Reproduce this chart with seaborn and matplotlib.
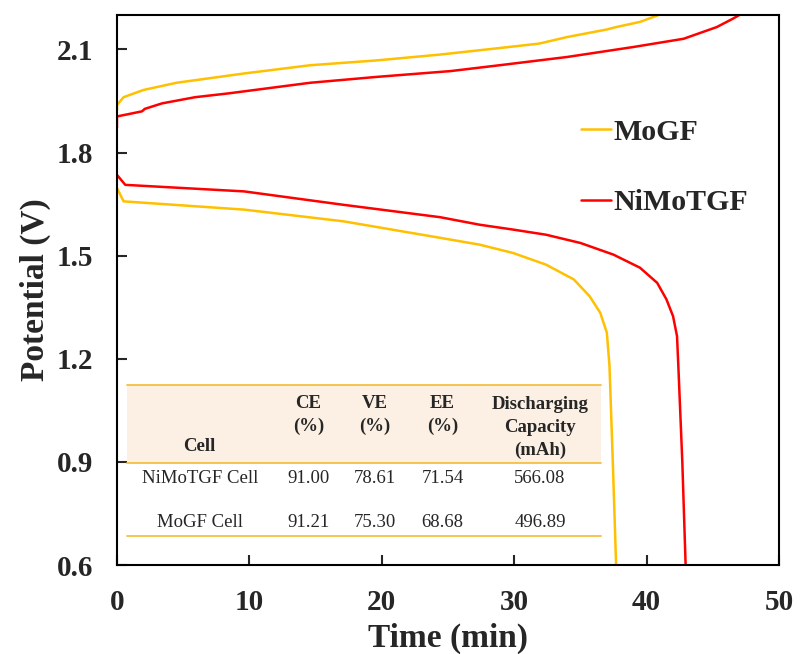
import pandas as pd
import matplotlib
matplotlib.use("Agg")
import matplotlib.pyplot as plt
import seaborn as sns

# charge / discharge curves (time in min, potential in V)
mogf_chg_t = [0, 0, 0.5, 2, 4.5, 9.6, 14.6, 19.6, 24.4, 28.9, 31.9, 34.0, 37.0, 37.7, 39.5, 40.9]
mogf_chg_v = [1.924, 1.938, 1.961, 1.982, 2.003, 2.030, 2.054, 2.068, 2.085, 2.104, 2.117, 2.136, 2.158, 2.165, 2.180, 2.200]
mogf_dis_t = [0, 0.5, 9.6, 17.1, 24.4, 27.4, 29.9, 32.4, 34.5, 35.7, 36.5, 37.0, 37.2, 37.45, 37.7]
mogf_dis_v = [1.697, 1.658, 1.634, 1.600, 1.552, 1.532, 1.508, 1.474, 1.431, 1.382, 1.334, 1.276, 1.179, 0.9, 0.6]

nimo_chg_t = [0, 0, 0.9, 1.9, 2.1, 3.4, 5.9, 8.4, 14.6, 19.6, 25.2, 28.9, 34.0, 39.0, 42.8, 45.3, 46.5, 47.0]
nimo_chg_v = [1.872, 1.905, 1.912, 1.920, 1.927, 1.943, 1.961, 1.972, 2.003, 2.020, 2.037, 2.054, 2.078, 2.107, 2.131, 2.165, 2.189, 2.200]
nimo_dis_t = [0, 0.63, 9.6, 17.1, 24.4, 27.4, 29.9, 32.4, 35.0, 37.5, 39.5, 40.8, 41.5, 42.0, 42.3, 42.4, 42.7, 42.95]
nimo_dis_v = [1.735, 1.706, 1.687, 1.648, 1.612, 1.590, 1.576, 1.561, 1.537, 1.503, 1.465, 1.421, 1.373, 1.324, 1.266, 1.179, 0.9, 0.6]

# table values
tbl_header = ["Cell", "CE\n(%)", "VE\n(%)", "EE\n(%)", "Discharging\nCapacity\n(mAh)"]
tbl_rows = [
    ["NiMoTGF Cell", "91.00", "78.61", "71.54", "566.08"],
    ["MoGF Cell", "91.21", "75.30", "68.68", "496.89"],
]

yellow = "#FFC000"
red = "#FF0000"

sns.set_style("ticks")
plt.rcParams['font.family'] = ['Liberation Serif', 'DejaVu Serif']

fig = plt.figure(figsize=(8.01, 6.54), dpi=100)
ax = fig.add_axes([0.146, 0.136, 0.8265, 0.841])

sns.lineplot(x=mogf_chg_t, y=mogf_chg_v, ax=ax, color=yellow, lw=1.8, sort=False, estimator=None, label="MoGF")
sns.lineplot(x=nimo_chg_t, y=nimo_chg_v, ax=ax, color=red, lw=1.8, sort=False, estimator=None, label="NiMoTGF")
sns.lineplot(x=mogf_dis_t, y=mogf_dis_v, ax=ax, color=yellow, lw=1.8, sort=False, estimator=None)
sns.lineplot(x=nimo_dis_t, y=nimo_dis_v, ax=ax, color=red, lw=1.8, sort=False, estimator=None)

ax.set_xlim(0, 50)
ax.set_ylim(0.6, 2.2)
ax.set_xticks([0, 10, 20, 30, 40, 50])
ax.set_yticks([0.6, 0.9, 1.2, 1.5, 1.8, 2.1])
ax.set_yticklabels(["0.6", "0.9", "1.2", "1.5", "1.8", "2.1"])
ax.tick_params(direction='in', length=7, width=1.5, labelsize=21, pad=17)
for lab in ax.get_xticklabels() + ax.get_yticklabels():
    lab.set_fontweight('bold')
for sp in ax.spines.values():
    sp.set_linewidth(1.5)
    sp.set_color('black')

ax.set_xlabel("Time (min)", fontsize=24, fontweight='bold', labelpad=5)
ax.set_ylabel("Potential (V)", fontsize=24, fontweight='bold', labelpad=4)

ax.legend(loc='upper left', bbox_to_anchor=(0.66, 0.86), frameon=False,
          handlelength=1.0, handletextpad=0.08, labelspacing=1.45,
          prop={'weight': 'bold', 'size': 21.5})

# table drawn inside the axes
tx0, tx1 = 0.015, 0.731
y_top, y_mid, y_bot = 0.327, 0.186, 0.053
ax.fill_between([tx0, tx1], y_mid, y_top, transform=ax.transAxes, color='#FCF0E4', lw=0, zorder=1)
for yy in (y_top, y_mid, y_bot):
    ax.plot([tx0, tx1], [yy, yy], transform=ax.transAxes, color='#F5C040', lw=1.3, zorder=2)

col_x = [0.125, 0.289, 0.390, 0.492, 0.639]
head_y = [0.215, 0.273, 0.273, 0.273, 0.250]
for cx, hy, txt in zip(col_x, head_y, tbl_header):
    ax.text(cx, hy, txt, transform=ax.transAxes, ha='center', va='center',
            fontsize=13.5, fontweight='bold', linespacing=1.45, zorder=3)
row_y = [0.158, 0.078]
for ry, row in zip(row_y, tbl_rows):
    for cx, txt in zip(col_x, row):
        ax.text(cx, ry, txt, transform=ax.transAxes, ha='center', va='center',
                fontsize=13.5, zorder=3)

fig.savefig("out.png", dpi=100)
